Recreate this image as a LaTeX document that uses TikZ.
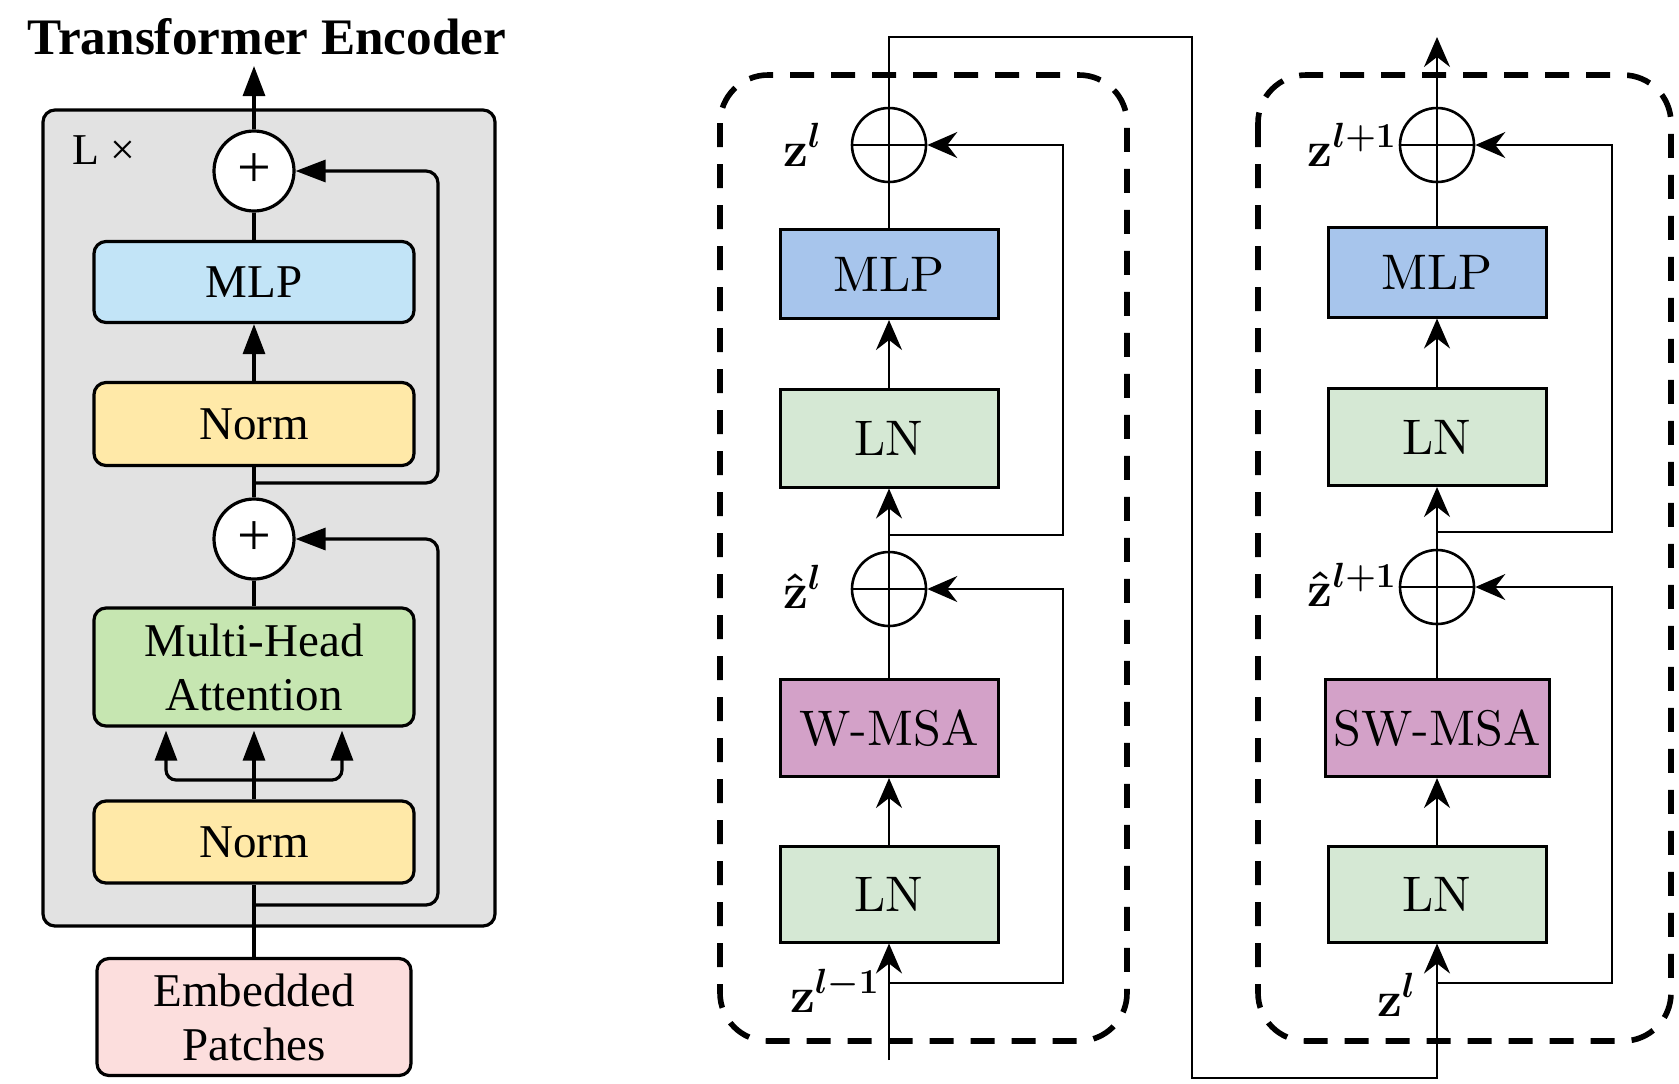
\RequirePackage{fix-cm}
\documentclass[tikz,border=0pt]{standalone}
\usepackage{fontspec}
\usetikzlibrary{arrows.meta}
\newfontfamily\timesf{Liberation Serif}
\newfontfamily\cmten{lmroman10-regular}[Extension=.otf]

\definecolor{encgray}{HTML}{E2E2E2}
\definecolor{vitmlp}{HTML}{C2E4F7}
\definecolor{vitnorm}{HTML}{FFE9A8}
\definecolor{vitmha}{HTML}{C6E6B1}
\definecolor{vitemb}{HTML}{FCDEDD}
\definecolor{swmlp}{HTML}{A7C5EC}
\definecolor{swln}{HTML}{D5E8D4}
\definecolor{swmsa}{HTML}{D3A1C8}

\begin{document}
\begin{tikzpicture}[x=0.5pt,y=-0.5pt,
  vitbox/.style={draw, line width=1.6pt, rounded corners=6pt, align=center,
    inner sep=0pt, font=\timesf\fontsize{23.5}{27}\selectfont},
  vitadd/.style={draw, circle, fill=white, line width=1.6pt, minimum size=40pt,
    inner sep=0pt, font=\timesf\fontsize{30}{30}\selectfont},
  vline/.style={line width=1.6pt},
  varrow/.style={vline, -{Triangle[length=15pt,width=11pt]}},
  swbox/.style={draw, line width=1.5pt, inner sep=0pt, minimum width=109pt,
    font=\cmten\fontsize{25}{29}\selectfont},
  swadd/.style={draw, circle, line width=1.3pt, minimum size=37pt, inner sep=0pt,
    path picture={
      \draw[line width=1.2pt] (path picture bounding box.north) -- (path picture bounding box.south);
      \draw[line width=1.2pt] (path picture bounding box.west) -- (path picture bounding box.east);}},
  sline/.style={line width=1.2pt},
  sarrow/.style={sline, -{Stealth[length=15pt,width=13pt,inset=5pt]}},
  stage/.style={line width=2.8pt, dash pattern=on 12pt off 8.5pt, rounded corners=24pt},
  zlab/.style={anchor=base east, inner sep=0pt, font=\fontsize{25}{29}\selectfont\boldmath}]
\useasboundingbox (0,0) rectangle (1679,1083);

% ---------------- ViT encoder block ----------------
\node[font=\timesf\bfseries\fontsize{25.6}{30}\selectfont] (title) at (267,37) {Transformer Encoder};
\node[draw, fill=encgray, line width=1.6pt, rounded corners=6pt,
      minimum width=226pt, minimum height=408pt] (enc) at (269,518) {};
\node[font=\timesf\fontsize{22}{26}\selectfont] (lx) at (104,150) {L ×};

\node[vitadd] (addT) at (254,171) {+};
\node[vitbox, fill=vitmlp, minimum width=160pt, minimum height=40.5pt] (mlpL) at (254,282) {MLP};
\node[vitbox, fill=vitnorm, minimum width=160pt, minimum height=41.5pt] (normT) at (254,424) {Norm};
\node[vitadd] (addB) at (254,539) {+};
\node[vitbox, fill=vitmha, minimum width=160pt, minimum height=59pt] (mha) at (254,667) {Multi-Head\\Attention};
\node[vitbox, fill=vitnorm, minimum width=160pt, minimum height=41pt] (normB) at (254,842) {Norm};
\node[vitbox, fill=vitemb, minimum width=157pt, minimum height=58.5pt] (emb) at (254,1017) {Embedded\\Patches};

\coordinate (out) at (254,66);
\coordinate (skipx) at (438,0);
\coordinate (brT) at (254,483);
\coordinate (brB) at (254,905);
\coordinate (fork) at (254,780);

\draw[varrow] (addT.north) -- (out);
\draw[vline] (mlpL.north) -- (addT.south);
\draw[varrow] (normT.north) -- (mlpL.south);
\draw[vline] (addB.north) -- (normT.south);
\draw[varrow, rounded corners=6pt] (brT) -- (brT -| skipx) -- (skipx |- addT) -- (addT.east);
\draw[vline] (mha.north) -- (addB.south);
\draw[vline] (normB.north) -- (fork);
\draw[varrow, shorten >=1.5pt] (fork) -- (mha.south);
\draw[varrow, rounded corners=5pt, shorten >=1.5pt] (fork) -| ([xshift=-44pt]mha.south);
\draw[varrow, rounded corners=5pt, shorten >=1.5pt] (fork) -| ([xshift=44pt]mha.south);
\draw[vline] (emb.north) -- (normB.south);
\draw[varrow, rounded corners=6pt] (brB) -- (brB -| skipx) -- (skipx |- addB) -- (addB.east);

% ---------------- Swin blocks ----------------
\draw[stage] (720,75) rectangle (1127,1041);
\draw[stage] (1258,75) rectangle (1671,1041);

% first block (W-MSA)
\node[swadd] (aA2) at (889,145) {};
\node[swbox, fill=swmlp, minimum height=44.5pt] (mlpA) at (889,274) {MLP};
\node[swbox, fill=swln, minimum height=49pt] (lnA2) at (889,438) {LN};
\node[swadd] (aA1) at (889,589) {};
\node[swbox, fill=swmsa, minimum height=48.5pt] (wmsa) at (889,728) {W-MSA};
\node[swbox, fill=swln, minimum height=48pt] (lnA1) at (889,894) {LN};

\node[zlab] (zA2) at (822,166) {$\mathbf{z}^{l}$};
\node[zlab] (zA1) at (822,608) {$\hat{\mathbf{z}}^{l}$};
\node[zlab] (zA0) at (880,1012) {$\mathbf{z}^{l-1}$};

\coordinate (inA) at (889,1060);
\coordinate (skA) at (1063,0);
\coordinate (bA1) at (889,983);
\coordinate (bA2) at (889,535);

\draw[sarrow] (inA) -- (lnA1.south);
\draw[sarrow] (bA1) -- (bA1 -| skA) -- (skA |- aA1) -- (aA1.east);
\draw[sarrow] (lnA1.north) -- (wmsa.south);
\draw[sline] (wmsa.north) -- (aA1.south);
\draw[sarrow] (aA1.north) -- (lnA2.south);
\draw[sarrow] (bA2) -- (bA2 -| skA) -- (skA |- aA2) -- (aA2.east);
\draw[sarrow] (lnA2.north) -- (mlpA.south);
\draw[sline] (mlpA.north) -- (aA2.south);

% second block (SW-MSA)
\node[swadd] (aB2) at (1437,145) {};
\node[swbox, fill=swmlp, minimum height=45pt] (mlpB) at (1437,272) {MLP};
\node[swbox, fill=swln, minimum height=48.5pt] (lnB2) at (1437,437) {LN};
\node[swadd] (aB1) at (1437,587) {};
\node[swbox, fill=swmsa, minimum width=112pt, minimum height=48.5pt] (swm) at (1437,728) {SW-MSA};
\node[swbox, fill=swln, minimum height=48pt] (lnB1) at (1437,894) {LN};

\node[zlab] (zB2) at (1397,166) {$\mathbf{z}^{l+1}$};
\node[zlab] (zB1) at (1397,606) {$\hat{\mathbf{z}}^{l+1}$};
\node[zlab] (zB0) at (1416,1016) {$\mathbf{z}^{l}$};

\coordinate (outB) at (1437,37);
\coordinate (skB) at (1612,0);
\coordinate (bB1) at (1437,983);
\coordinate (bB2) at (1437,532);

% link from the first block output to the second block input
\draw[sarrow] (aA2.north) -- (889,37) -- (1192,37) -- (1192,1078) -- (1437,1078) -- (lnB1.south);
\draw[sarrow] (bB1) -- (bB1 -| skB) -- (skB |- aB1) -- (aB1.east);
\draw[sarrow] (lnB1.north) -- (swm.south);
\draw[sline] (swm.north) -- (aB1.south);
\draw[sarrow] (aB1.north) -- (lnB2.south);
\draw[sarrow] (bB2) -- (bB2 -| skB) -- (skB |- aB2) -- (aB2.east);
\draw[sarrow] (lnB2.north) -- (mlpB.south);
\draw[sline] (mlpB.north) -- (aB2.south);
\draw[sarrow] (aB2.north) -- (outB);
\end{tikzpicture}
\end{document}
